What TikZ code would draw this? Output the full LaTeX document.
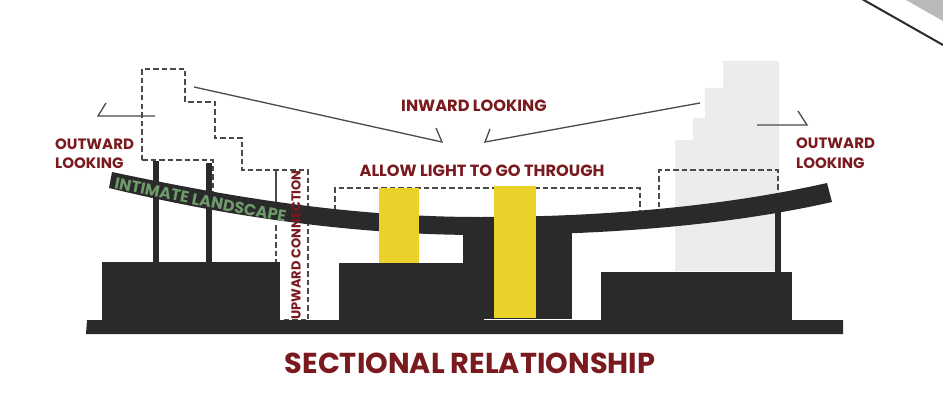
\documentclass[tikz,border=0pt]{standalone}
\usepackage{fontspec}
\setmainfont{Poppins}
\usetikzlibrary{decorations.text}
\definecolor{ink}{HTML}{2A2A2A}
\definecolor{maroon}{HTML}{7A1A1E}
\definecolor{sun}{HTML}{EBD22B}
\definecolor{pale}{HTML}{ECECEC}
\definecolor{leaf}{HTML}{6F9A6B}
\definecolor{wire}{HTML}{4A4A4A}
\tikzset{
  solidmass/.style={fill=ink,draw=none},
  glow/.style={fill=sun,draw=none},
  guide/.style={draw=wire,line width=1.3pt,dash pattern=on 5.5pt off 3pt},
  sight/.style={draw=wire,line width=1.3pt},
  label/.style={text=maroon,font=\fontsize{15}{19.5}\selectfont\bfseries,inner sep=0pt,align=left},
  biglabel/.style={text=maroon,font=\fontsize{16.2}{19}\selectfont\bfseries,inner sep=0pt}
}
\begin{document}
\begin{tikzpicture}[x=1pt,y=-1pt]
\useasboundingbox (0,0) rectangle (943,412);
\fill[white] (0,0) rectangle (943,412);
% top-right corner fragment
\fill[gray!55] (906,0) -- (943,21) -- (943,0) -- cycle;
\draw[ink,line width=2pt] (862,-1) -- (943,45);
% pale stepped volume
\fill[pale] (723,61) -- (779,61) -- (779,271) -- (675,271) -- (675,140) -- (693,140) -- (693,118) -- (705,118) -- (705,88) -- (723,88) -- cycle;
% dashed outlines
\draw[guide] (142,160) -- (142,69) -- (185,69) -- (185,102) -- (215,102) -- (215,138) -- (242,138) -- (242,170) -- (308,170) -- (308,320) -- (281,320);
\draw[guide] (142,160) -- (213,160) -- (213,192);
\draw[draw=wire,line width=1.3pt] (276,170) -- (276,210);
\draw[guide] (276,225) -- (276,262);
\draw[guide] (335,210) -- (335,188) -- (640,188) -- (640,212);
\draw[guide] (659,207) -- (659,170) -- (778,170) -- (778,195);
% masses
\fill[solidmass] (87,320) -- (843,320) -- (843,334) -- (86,334) -- cycle;
\fill[solidmass] (102,262) rectangle (280,321);
\fill[solidmass] (339,263) rectangle (490,321);
\fill[solidmass] (463,225) rectangle (572,321);
\fill[solidmass] (601,272) rectangle (792,321);
\fill[solidmass] (153,161) rectangle (159,263);
\fill[solidmass] (206,163) rectangle (212,263);
\fill[solidmass] (775,205) rectangle (781,272);
% roof
\fill[solidmass] (112,172) .. controls (230,197) and (350,217) .. (480,217) .. controls (610,217) and (730,205) .. (827,183)
  -- (832,202) .. controls (730,225) and (610,235) .. (480,235) .. controls (350,235) and (220,215) .. (109,188) -- cycle;
\draw[white,line width=1pt] (484,319) -- (572,319);
% yellow light shafts
\fill[glow] (379,188) rectangle (419,263);
\fill[glow] (494,186) rectangle (536,318);
% sight lines
\coordinate (olA) at (155,116); \coordinate (olB) at (98,116); \coordinate (olC) at (106,103);
\draw[sight] (olA) -- (olB) -- (olC);
\coordinate (orA) at (757,125); \coordinate (orB) at (807,125); \coordinate (orC) at (798,111);
\draw[sight] (orA) -- (orB) -- (orC);
\coordinate (ilA) at (194,87); \coordinate (ilB) at (442,142); \coordinate (ilC) at (436,128);
\draw[sight] (ilA) -- (ilB) -- (ilC);
\coordinate (irA) at (700,103); \coordinate (irB) at (485,142); \coordinate (irC) at (490,129);
\draw[sight] (irA) -- (irB) -- (irC);
% labels
\node[label,anchor=west] (outL) at (55,153.5) {OUTWARD\\LOOKING};
\node[label,anchor=west] (outR) at (796,153) {OUTWARD\\LOOKING};
\node[biglabel] (inward) at (474,106) {INWARD LOOKING};
\node[biglabel] (light) at (482,171) {ALLOW LIGHT TO GO THROUGH};
\node[text=maroon,font=\fontsize{13}{15}\selectfont\bfseries,rotate=90,inner sep=0pt] (up) at (296,245) {UPWARD CONNECTION};
\path[decorate,decoration={text along path,text align=center,
  text={|\fontsize{16}{18}\selectfont\bfseries\color{leaf}|INTIMATE LANDSCAPE}}]
  (112,188) .. controls (160,198) and (230,212) .. (287,222);
\node[text=maroon,font=\fontsize{28.8}{32}\selectfont\bfseries,inner sep=0pt] (title) at (470,363) {SECTIONAL RELATIONSHIP};
\end{tikzpicture}
\end{document}
